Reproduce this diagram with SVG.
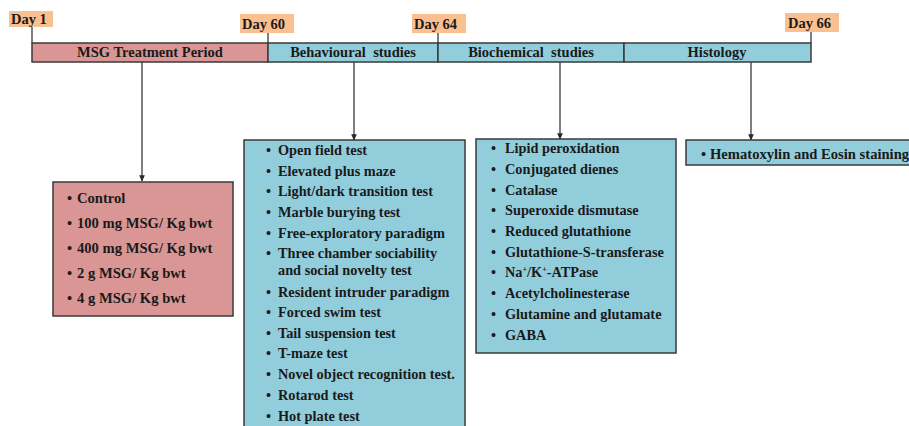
<svg xmlns="http://www.w3.org/2000/svg" width="909" height="426" viewBox="0 0 909 426">
<style>
text{font-family:"Liberation Serif","Times New Roman",serif;font-weight:bold;fill:#1a1a1a}
.t{font-size:14.3px}
.m{font-size:14.6px}
.h{font-size:14.5px}
.d{font-size:14.5px}
.pink{fill:#d99694;stroke:#3a3a3a;stroke-width:1.5}
.blue{fill:#92cddc;stroke:#3a3a3a;stroke-width:1.5}
.day{fill:#fac090}
.ln{stroke:#3a3a3a;stroke-width:1.3;fill:none}
</style>
<defs>
<marker id="ah" viewBox="0 0 8 8" refX="7" refY="4" markerWidth="5" markerHeight="5" orient="auto"><path d="M0,0.5 L8,4 L0,7.5 z" fill="#2a2a2a"/></marker>
</defs>
<g id="days">
<rect class="day" x="9" y="11" width="44" height="16"/>
<text class="d" x="11" y="24">Day 1</text>
<rect class="day" x="240" y="14" width="54" height="19"/>
<text class="d" x="242" y="29">Day 60</text>
<rect class="day" x="412" y="14" width="54" height="19"/>
<text class="d" x="414" y="29">Day 64</text>
<rect class="day" x="785" y="13" width="54" height="19"/>
<text class="d" x="788" y="28">Day 66</text>
</g>
<g id="timeline">
<rect id="seg-msg" class="pink" x="32" y="43" width="236" height="19"/>
<text class="h" x="150" y="57" text-anchor="middle">MSG Treatment Period</text>
<rect id="seg-beh" class="blue" x="268" y="43" width="170" height="19"/>
<text class="h" x="353" y="57" text-anchor="middle" xml:space="preserve">Behavioural  studies</text>
<rect id="seg-bio" class="blue" x="438" y="43" width="186" height="19"/>
<text class="h" x="531" y="57" text-anchor="middle" xml:space="preserve">Biochemical  studies</text>
<rect id="seg-his" class="blue" x="624" y="43" width="187" height="19"/>
<text class="h" x="717" y="57" text-anchor="middle">Histology</text>
</g>
<g id="connectors">
<line class="ln" x1="32" y1="27" x2="32" y2="43"/>
<line class="ln" x1="268" y1="33" x2="268" y2="43"/>
<line class="ln" x1="438" y1="33" x2="438" y2="43"/>
<line class="ln" x1="811" y1="32" x2="811" y2="43"/>
<line class="ln" x1="142" y1="62" x2="142" y2="181" marker-end="url(#ah)"/>
<line class="ln" x1="354" y1="62" x2="354" y2="140" marker-end="url(#ah)"/>
<line class="ln" x1="560" y1="62" x2="560" y2="139" marker-end="url(#ah)"/>
<line class="ln" x1="751" y1="62" x2="751" y2="140" marker-end="url(#ah)"/>
</g>
<g id="msg-groups">
<rect class="pink" x="53" y="182" width="180" height="134"/>
<g class="m">
<text x="67" y="203">•</text><text x="77" y="203">Control</text>
<text x="67" y="228">•</text><text x="77" y="228">100 mg MSG/ Kg bwt</text>
<text x="67" y="253">•</text><text x="77" y="253">400 mg MSG/ Kg bwt</text>
<text x="67" y="278">•</text><text x="77" y="278">2 g MSG/ Kg bwt</text>
<text x="67" y="303">•</text><text x="77" y="303">4 g MSG/ Kg bwt</text>
</g>
</g>
<g id="behavioural">
<rect class="blue" x="244" y="140" width="221" height="295"/>
<g class="t">
<text x="266" y="155">•</text><text x="278" y="155">Open field test</text>
<text x="266" y="176">•</text><text x="278" y="176">Elevated plus maze</text>
<text x="266" y="196">•</text><text x="278" y="196">Light/dark transition test</text>
<text x="266" y="217">•</text><text x="278" y="217">Marble burying test</text>
<text x="266" y="238">•</text><text x="278" y="238">Free-exploratory paradigm</text>
<text x="266" y="258">•</text><text x="278" y="258">Three chamber sociability</text>
<text x="278" y="275">and social novelty test</text>
<text x="266" y="297">•</text><text x="278" y="297">Resident intruder paradigm</text>
<text x="266" y="317">•</text><text x="278" y="317">Forced swim test</text>
<text x="266" y="338">•</text><text x="278" y="338">Tail suspension test</text>
<text x="266" y="358">•</text><text x="278" y="358">T-maze test</text>
<text x="266" y="379">•</text><text x="278" y="379">Novel object recognition test.</text>
<text x="266" y="400">•</text><text x="278" y="400">Rotarod test</text>
<text x="266" y="421">•</text><text x="278" y="421">Hot plate test</text>
</g>
</g>
<g id="biochemical">
<rect class="blue" x="476" y="139" width="200" height="214"/>
<g class="t">
<text x="491" y="153">•</text><text x="505" y="153">Lipid peroxidation</text>
<text x="491" y="174">•</text><text x="505" y="174">Conjugated dienes</text>
<text x="491" y="195">•</text><text x="505" y="195">Catalase</text>
<text x="491" y="215">•</text><text x="505" y="215">Superoxide dismutase</text>
<text x="491" y="236">•</text><text x="505" y="236">Reduced glutathione</text>
<text x="491" y="257">•</text><text x="505" y="257">Glutathione-S-transferase</text>
<text x="491" y="277">•</text><text x="505" y="277">Na<tspan font-size="8" dy="-5">+</tspan><tspan dy="5">/K</tspan><tspan font-size="8" dy="-5">+</tspan><tspan dy="5">-ATPase</tspan></text>
<text x="491" y="298">•</text><text x="505" y="298">Acetylcholinesterase</text>
<text x="491" y="319">•</text><text x="505" y="319">Glutamine and glutamate</text>
<text x="491" y="340">•</text><text x="505" y="340">GABA</text>
</g>
</g>
<g id="histology">
<rect class="blue" x="686" y="140" width="230" height="25"/>
<g class="m">
<text x="701" y="159">•</text><text x="710" y="159">Hematoxylin and Eosin staining</text>
</g>
</g>
</svg>
